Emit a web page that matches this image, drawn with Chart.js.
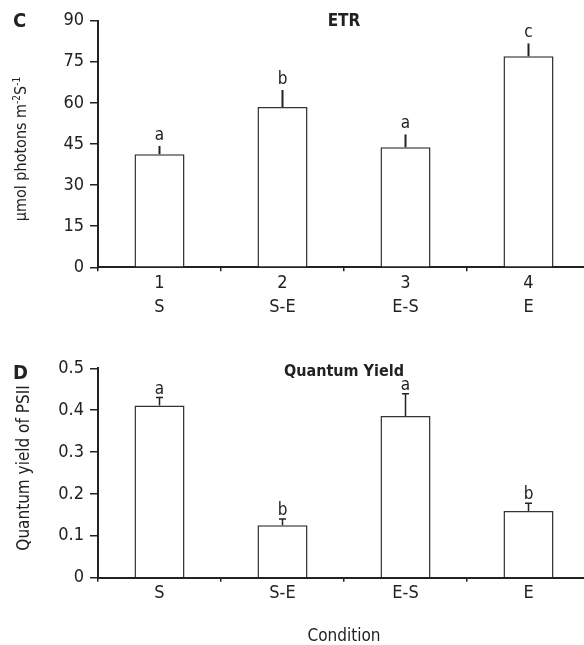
<!DOCTYPE html>
<html>
<head>
<meta charset="utf-8">
<script src="https://cdn.jsdelivr.net/npm/chart.js@4/dist/chart.umd.min.js"></script>
<style>
    html, body { margin: 0; padding: 0; background: #fff; }
    body { width: 584px; height: 645px; overflow: hidden; position: relative; }
    .panel { position: absolute; left: 0; }
    #panel-c { top: 0; width: 590px; height: 320px; }
    #panel-d { top: 320px; width: 590px; height: 325px; }
</style>
</head>
<body>
<div class="panel" id="panel-c"><canvas id="etrChart" width="590" height="320"></canvas></div>
<div class="panel" id="panel-d"><canvas id="yieldChart" width="590" height="325"></canvas></div>
<script>
// 📊 DATA
const conditions = ['S', 'S-E', 'E-S', 'E'];
const conditionNums = ['1', '2', '3', '4'];

const etrMeans = [41.3, 58.5, 43.8, 77.0];
const etrErrors = [3.0, 6.2, 4.7, 4.7];
const etrLetters = ['a', 'b', 'a', 'c'];
const etrTicks = [0, 15, 30, 45, 60, 75, 90];

const yieldMeans = [0.411, 0.125, 0.386, 0.159];
const yieldErrors = [0.019, 0.015, 0.053, 0.019];
const yieldLetters = ['a', 'b', 'a', 'b'];
const yieldTicks = [0, 0.1, 0.2, 0.3, 0.4, 0.5];

const FONT = "'DejaVu Sans Condensed', 'Liberation Sans Narrow', sans-serif";
const INK = '#222';

Chart.defaults.font.family = FONT;
Chart.defaults.font.size = 18;
Chart.defaults.color = INK;

// 🖊️ error bars, significance letters, panel letter, title, y-title
const annotatePlugin = {
    id: 'annotate',
    afterDatasetsDraw(chart, args, opts) {
        const { ctx, chartArea } = chart;
        const y = chart.scales.y;
        const meta = chart.getDatasetMeta(0);
        ctx.save();

        // error bars + letters
        meta.data.forEach((bar, i) => {
            const v = chart.data.datasets[0].data[i];
            const top = y.getPixelForValue(v + opts.errors[i]);
            ctx.strokeStyle = INK;
            ctx.lineWidth = opts.errWidth;
            ctx.beginPath();
            ctx.moveTo(bar.x, bar.y);
            ctx.lineTo(bar.x, top);
            if (opts.cap) {
                ctx.moveTo(bar.x - opts.cap, top);
                ctx.lineTo(bar.x + opts.cap, top);
            }
            ctx.stroke();

            ctx.fillStyle = INK;
            ctx.font = `17px ${FONT}`;
            ctx.textAlign = 'center';
            ctx.textBaseline = 'alphabetic';
            ctx.fillText(opts.letters[i], bar.x, top - opts.letterGap);
        });

        // panel letter
        ctx.font = `bold 20px ${FONT}`;
        ctx.textAlign = 'left';
        ctx.textBaseline = 'middle';
        ctx.fillText(opts.panel, 13, chartArea.top + opts.panelDy);

        // title
        ctx.font = `bold ${opts.titleSize}px ${FONT}`;
        ctx.textAlign = 'center';
        ctx.fillText(opts.title, (chartArea.left + chartArea.right) / 2, chartArea.top + opts.titleDy);

        // rotated y title (pieces allow superscripts)
        ctx.translate(opts.yTitleX, (chartArea.top + chartArea.bottom) / 2 + opts.yTitleDy);
        ctx.rotate(-Math.PI / 2);
        const pieces = opts.yTitle.map(p => ({
            text: p[0],
            sup: p[1],
            font: p[1] ? `${Math.round(opts.yTitleSize * 0.65)}px ${FONT}` : `${opts.yTitleSize}px ${FONT}`
        }));
        let total = 0;
        pieces.forEach(p => { ctx.font = p.font; p.w = ctx.measureText(p.text).width; total += p.w; });
        let x = -total / 2;
        ctx.textAlign = 'left';
        pieces.forEach(p => {
            ctx.font = p.font;
            ctx.fillText(p.text, x, p.sup ? -5 : 0);
            x += p.w;
        });
        ctx.restore();
    }
};

function baseScales(min, max, step, ticks, fmt) {
    return {
        x: {
            grid: { display: true, drawOnChartArea: false, offset: true, tickLength: 4, color: INK, lineWidth: 1.5 },
            border: { display: true, color: INK, width: 2 },
            ticks: { padding: 0, font: { size: 18, lineHeight: 1.33 }, color: INK, maxRotation: 0 },
            afterFit: null
        },
        y: {
            min: min,
            max: max,
            grid: { display: true, drawOnChartArea: false, tickLength: 8, color: INK, lineWidth: 1.5 },
            border: { display: true, color: INK, width: 2 },
            afterBuildTicks: s => { s.ticks = ticks.map(v => ({ value: v })); },
            ticks: { stepSize: step, padding: 6, color: INK, callback: fmt },
            afterFit: s => { s.width = 98; }
        }
    };
}

// 🔝 PANEL C — ETR
const etrScales = baseScales(0, 90, 15, etrTicks, v => String(v));
etrScales.x.afterFit = s => { s.height = 52.7; };
new Chart(document.getElementById('etrChart'), {
    type: 'bar',
    data: {
        labels: conditionNums.map((n, i) => [n, conditions[i]]),
        datasets: [{
            data: etrMeans,
            backgroundColor: '#fff',
            borderColor: '#333',
            borderWidth: 1.5,
            categoryPercentage: 1,
            barPercentage: 0.407
        }]
    },
    options: {
        responsive: false,
        animation: false,
        layout: { padding: { top: 20.7, right: 0, bottom: 0, left: 0 } },
        plugins: {
            legend: { display: false },
            tooltip: { enabled: false },
            annotate: {
                errors: etrErrors, letters: etrLetters, cap: 0, errWidth: 2, letterGap: 6,
                panel: 'C', panelDy: 1.5, title: 'ETR', titleSize: 17, titleDy: 1,
                yTitleX: 22, yTitleDy: 5, yTitleSize: 16,
                yTitle: [['µmol photons m', false], ['-2', true], ['S', false], ['-1', true]]
            }
        },
        scales: etrScales
    },
    plugins: [annotatePlugin]
});

// 🔽 PANEL D — Quantum Yield
const yieldScales = baseScales(0, 0.5, 0.1, yieldTicks, v => (v === 0 ? '0' : v.toFixed(1)));
yieldScales.x.afterFit = s => { s.height = 67.3; };
yieldScales.x.title = { display: true, text: 'Condition', color: INK, font: { size: 17, lineHeight: 1 }, padding: { top: 0, bottom: 0 } };
new Chart(document.getElementById('yieldChart'), {
    type: 'bar',
    data: {
        labels: conditions,
        datasets: [{
            data: yieldMeans,
            backgroundColor: '#fff',
            borderColor: '#333',
            borderWidth: 1.5,
            categoryPercentage: 1,
            barPercentage: 0.407
        }]
    },
    options: {
        responsive: false,
        animation: false,
        layout: { padding: { top: 48.3, right: 0, bottom: 0, left: 0 } },
        plugins: {
            legend: { display: false },
            tooltip: { enabled: false },
            annotate: {
                errors: yieldErrors, letters: yieldLetters, cap: 3.5, errWidth: 1.5, letterGap: 4,
                panel: 'D', panelDy: 5, title: 'Quantum Yield', titleSize: 16, titleDy: 4,
                yTitleX: 25, yTitleDy: -5, yTitleSize: 17,
                yTitle: [['Quantum yield of PSII', false]]
            }
        },
        scales: yieldScales
    },
    plugins: [annotatePlugin]
});
</script>
</body>
</html>
